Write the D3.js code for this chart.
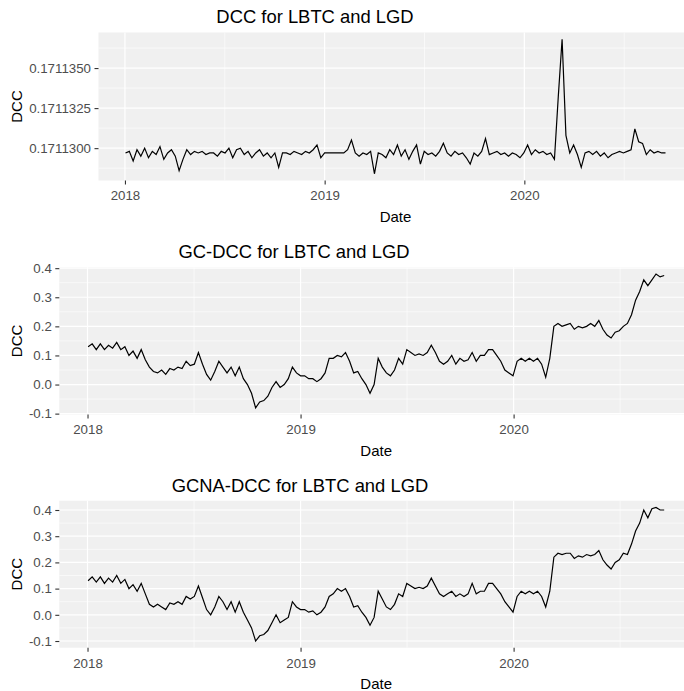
<!DOCTYPE html>
<html>
<head>
<meta charset="utf-8">
<script src="https://cdn.jsdelivr.net/npm/d3@7"></script>
<style>
  html, body { margin: 0; padding: 0; background: #ffffff; }
  svg { display: block; font-family: "Liberation Sans", Arial, sans-serif; }
</style>
</head>
<body>
<svg id="chart" width="684" height="691"></svg>
<script>
// weekly observations, starting on the first trading day of 2018
const startDate = new Date(Date.UTC(2018, 0, 2))
const stepDays = 7
const xTickYears = [2018, 2019, 2020]

const panelTitles = [
  "DCC for LBTC and LGD",
  "GC-DCC for LBTC and LGD",
  "GCNA-DCC for LBTC and LGD",
]

const dccTicks = [0.17113, 0.1711325, 0.171135]
const gcTicks = [-0.1, 0, 0.1, 0.2, 0.3, 0.4]

const dccValues = [
  0.1711297, 0.1711298, 0.1711292, 0.1711299, 0.1711295, 0.17113, 0.1711294, 0.1711298, 0.1711296, 0.1711301,
  0.1711293, 0.1711297, 0.1711299, 0.1711295, 0.1711286, 0.1711293, 0.1711299, 0.1711296, 0.1711298, 0.1711297,
  0.1711298, 0.1711296, 0.1711297, 0.1711297, 0.1711295, 0.1711298, 0.1711297, 0.17113, 0.1711294, 0.1711299,
  0.17113, 0.1711296, 0.1711298, 0.1711294, 0.1711297, 0.1711299, 0.1711295, 0.1711297, 0.1711294, 0.1711297,
  0.1711288, 0.1711297, 0.1711297, 0.1711296, 0.1711298, 0.1711297, 0.1711296, 0.1711298, 0.1711297, 0.1711299,
  0.1711302, 0.1711294, 0.1711297, 0.1711297, 0.1711297, 0.1711297, 0.1711297, 0.1711297, 0.1711299, 0.1711305,
  0.1711297, 0.1711295, 0.1711297, 0.1711296, 0.1711298, 0.1711284, 0.1711297, 0.1711296, 0.1711294, 0.1711299,
  0.1711296, 0.1711302, 0.1711295, 0.1711299, 0.1711293, 0.1711298, 0.1711302, 0.171129, 0.1711298, 0.1711296,
  0.1711297, 0.1711295, 0.1711298, 0.1711303, 0.1711297, 0.1711295, 0.1711298, 0.1711296, 0.1711297, 0.1711294,
  0.171129, 0.1711297, 0.1711295, 0.1711298, 0.1711306, 0.1711296, 0.1711297, 0.1711298, 0.1711296, 0.1711297,
  0.1711295, 0.1711297, 0.1711296, 0.1711294, 0.1711297, 0.1711302, 0.1711296, 0.1711299, 0.1711297, 0.1711298,
  0.1711296, 0.1711297, 0.1711293, 0.1711332, 0.1711368, 0.1711308, 0.1711297, 0.1711302, 0.1711296, 0.1711288,
  0.1711297, 0.1711298, 0.1711296, 0.1711298, 0.1711295, 0.1711297, 0.1711294, 0.1711296, 0.1711297, 0.1711298,
  0.1711297, 0.1711298, 0.1711299, 0.1711312, 0.1711304, 0.1711303, 0.1711296, 0.1711299, 0.1711297, 0.1711298,
  0.1711297, 0.1711297,
]

const gcDccValues = [
  0.13, 0.14, 0.12, 0.14, 0.12, 0.135, 0.125, 0.145, 0.12, 0.13,
  0.1, 0.115, 0.09, 0.12, 0.085, 0.06, 0.045, 0.04, 0.05, 0.035,
  0.055, 0.05, 0.06, 0.055, 0.08, 0.065, 0.07, 0.11, 0.07, 0.035,
  0.015, 0.045, 0.08, 0.06, 0.04, 0.06, 0.03, 0.06, 0.02, 0.0,
  -0.03, -0.08, -0.06, -0.055, -0.04, -0.01, 0.01, -0.01, 0.0, 0.02,
  0.06, 0.04, 0.03, 0.03, 0.02, 0.02, 0.01, 0.02, 0.04, 0.09,
  0.09, 0.1, 0.095, 0.11, 0.08, 0.04, 0.045, 0.02, 0.0, -0.03,
  0.0, 0.09, 0.06, 0.04, 0.03, 0.05, 0.09, 0.07, 0.12, 0.11,
  0.1, 0.105, 0.1, 0.11, 0.135, 0.11, 0.08, 0.07, 0.08, 0.1,
  0.07, 0.09, 0.08, 0.085, 0.11, 0.08, 0.1, 0.1, 0.12, 0.12,
  0.1, 0.08, 0.05, 0.04, 0.03, 0.08, 0.09, 0.08, 0.09, 0.08,
  0.09, 0.07, 0.025, 0.09, 0.2, 0.21, 0.2, 0.205, 0.21, 0.19,
  0.2, 0.195, 0.2, 0.21, 0.2, 0.22, 0.19, 0.17, 0.16, 0.18,
  0.185, 0.2, 0.21, 0.24, 0.29, 0.32, 0.36, 0.34, 0.36, 0.38,
  0.37, 0.375,
]

const gcnaDccValues = [
  0.13, 0.145, 0.125, 0.145, 0.12, 0.14, 0.125, 0.15, 0.12, 0.135,
  0.1, 0.115, 0.09, 0.12, 0.08, 0.04, 0.03, 0.04, 0.03, 0.02,
  0.045, 0.04, 0.05, 0.04, 0.07, 0.06, 0.07, 0.11, 0.065, 0.02,
  0.0, 0.03, 0.07, 0.05, 0.02, 0.05, 0.01, 0.05, 0.01, -0.02,
  -0.05, -0.1, -0.08, -0.075, -0.06, -0.03, 0.0, -0.03, -0.02, -0.01,
  0.05, 0.03, 0.02, 0.02, 0.01, 0.015, 0.0, 0.01, 0.03, 0.07,
  0.08, 0.1, 0.09, 0.1, 0.07, 0.03, 0.035, 0.01, -0.01, -0.04,
  -0.01, 0.09, 0.06, 0.03, 0.02, 0.04, 0.08, 0.07, 0.12, 0.11,
  0.1, 0.105, 0.1, 0.11, 0.14, 0.11, 0.08, 0.07, 0.08, 0.09,
  0.07, 0.08, 0.07, 0.08, 0.12, 0.08, 0.09, 0.09, 0.12, 0.12,
  0.1, 0.08, 0.05, 0.03, 0.01, 0.07, 0.09, 0.08, 0.09, 0.08,
  0.09, 0.07, 0.03, 0.09, 0.22, 0.235, 0.23, 0.235, 0.235, 0.215,
  0.225, 0.22, 0.23, 0.225, 0.23, 0.245, 0.21, 0.19, 0.175, 0.2,
  0.21, 0.235, 0.23, 0.27, 0.32, 0.35, 0.4, 0.37, 0.405, 0.41,
  0.4, 0.4,
]

// panel boxes (the right edge runs past the picture, as in the original)
const panels = [
  { title: panelTitles[0], values: dccValues, ticks: dccTicks, fmt: d3.format(".7f"),
    box: { left: 98.5, right: 692.5, top: 32.5, bottom: 180.5 }, titleX: 315 },
  { title: panelTitles[1], values: gcDccValues, ticks: gcTicks, fmt: d3.format(".1f"),
    box: { left: 59.3, right: 693, top: 267.3, bottom: 414.5 }, titleX: 294 },
  { title: panelTitles[2], values: gcnaDccValues, ticks: gcTicks, fmt: d3.format(".1f"),
    box: { left: 59.3, right: 693, top: 500.7, bottom: 647.7 }, titleX: 300 },
]

const svg = d3.select("#chart")

// ggplot-like 5% expansion around the data range
const expand = ([lo, hi], k = 0.05) => {
  const pad = (hi - lo) * k
  return [lo - pad, hi + pad]
}

const drawPanel = (p) => {
  const { box } = p
  const data = p.values.map((v, i) => ({
    date: d3.utcDay.offset(startDate, i * stepDays),
    value: v,
  }))

  const xScale = d3
    .scaleUtc()
    .domain(expand(d3.extent(data, (d) => d.date).map(Number)).map((t) => new Date(t)))
    .range([box.left, box.right])
  const yScale = d3
    .scaleLinear()
    .domain(expand(d3.extent(data, (d) => d.value)))
    .range([box.bottom, box.top])

  // grey panel background
  svg
    .append("rect")
    .attr("x", box.left)
    .attr("y", box.top)
    .attr("width", box.right - box.left)
    .attr("height", box.bottom - box.top)
    .attr("fill", "#F0F0F0")

  // major and minor breaks
  const xMajor = xTickYears.map((y) => new Date(Date.UTC(y, 0, 1)))
  const xMinor = xMajor.map((d, i) => {
    const next = xMajor[i + 1] || new Date(2 * d - xMajor[i - 1])
    return new Date((+d + +next) / 2)
  })
  const yStep = p.ticks[1] - p.ticks[0]
  const yMinor = [p.ticks[0] - yStep / 2, ...p.ticks.map((t) => t + yStep / 2)].filter(
    (v) => v >= yScale.domain()[0] && v <= yScale.domain()[1]
  )

  const grid = svg.append("g").attr("stroke", "#ffffff")
  grid
    .selectAll(".yMinor")
    .data(yMinor)
    .join("line")
    .attr("x1", box.left)
    .attr("x2", box.right)
    .attr("y1", (d) => yScale(d))
    .attr("y2", (d) => yScale(d))
    .attr("stroke-width", 0.6)
  grid
    .selectAll(".xMinor")
    .data(xMinor.filter((d) => xScale(d) < box.right))
    .join("line")
    .attr("y1", box.top)
    .attr("y2", box.bottom)
    .attr("x1", (d) => xScale(d))
    .attr("x2", (d) => xScale(d))
    .attr("stroke-width", 0.6)
  grid
    .selectAll(".yMajor")
    .data(p.ticks)
    .join("line")
    .attr("x1", box.left)
    .attr("x2", box.right)
    .attr("y1", (d) => yScale(d))
    .attr("y2", (d) => yScale(d))
    .attr("stroke-width", 1.2)
  grid
    .selectAll(".xMajor")
    .data(xMajor)
    .join("line")
    .attr("y1", box.top)
    .attr("y2", box.bottom)
    .attr("x1", (d) => xScale(d))
    .attr("x2", (d) => xScale(d))
    .attr("stroke-width", 1.2)

  // the series itself
  svg
    .append("path")
    .datum(data)
    .attr("fill", "none")
    .attr("stroke", "#000000")
    .attr("stroke-width", 1.2)
    .attr(
      "d",
      d3
        .line()
        .x((d) => xScale(d.date))
        .y((d) => yScale(d.value))
    )

  // axes
  const xAxis = d3
    .axisBottom(xScale)
    .tickValues(xMajor)
    .tickFormat(d3.utcFormat("%Y"))
    .tickSizeInner(4)
    .tickSizeOuter(0)
    .tickPadding(6.5)
  const yAxis = d3
    .axisLeft(yScale)
    .tickValues(p.ticks)
    .tickFormat((d) => p.fmt(d).replace("\u2212", "-"))
    .tickSizeInner(4)
    .tickSizeOuter(0)
    .tickPadding(3.5)

  const gx = svg.append("g").attr("transform", `translate(0, ${box.bottom})`).call(xAxis)
  const gy = svg.append("g").attr("transform", `translate(${box.left}, 0)`).call(yAxis)
  for (const g of [gx, gy]) {
    g.select(".domain").remove()
    g.selectAll(".tick line").attr("stroke", "#333333").attr("stroke-width", 1.1)
    g.selectAll(".tick text")
      .attr("fill", "#4D4D4D")
      .style("font-size", "13.3px")
      .style("font-family", "'Liberation Sans', Arial, sans-serif")
  }

  // titles
  svg
    .append("text")
    .attr("x", p.titleX)
    .attr("y", box.top - 15.5)
    .attr("dy", "0.35em")
    .attr("text-anchor", "middle")
    .style("font-size", "18.4px")
    .attr("fill", "#000000")
    .text(p.title)
  svg
    .append("text")
    .attr("x", (box.left + box.right) / 2)
    .attr("y", box.bottom + 36)
    .attr("dy", "0.35em")
    .attr("text-anchor", "middle")
    .style("font-size", "15px")
    .attr("fill", "#000000")
    .text("Date")
  svg
    .append("text")
    .attr("transform", `translate(17, ${(box.top + box.bottom) / 2}) rotate(-90)`)
    .attr("dy", "0.35em")
    .attr("text-anchor", "middle")
    .style("font-size", "15px")
    .attr("fill", "#000000")
    .text("DCC")
}

panels.forEach(drawPanel)
</script>
</body>
</html>
